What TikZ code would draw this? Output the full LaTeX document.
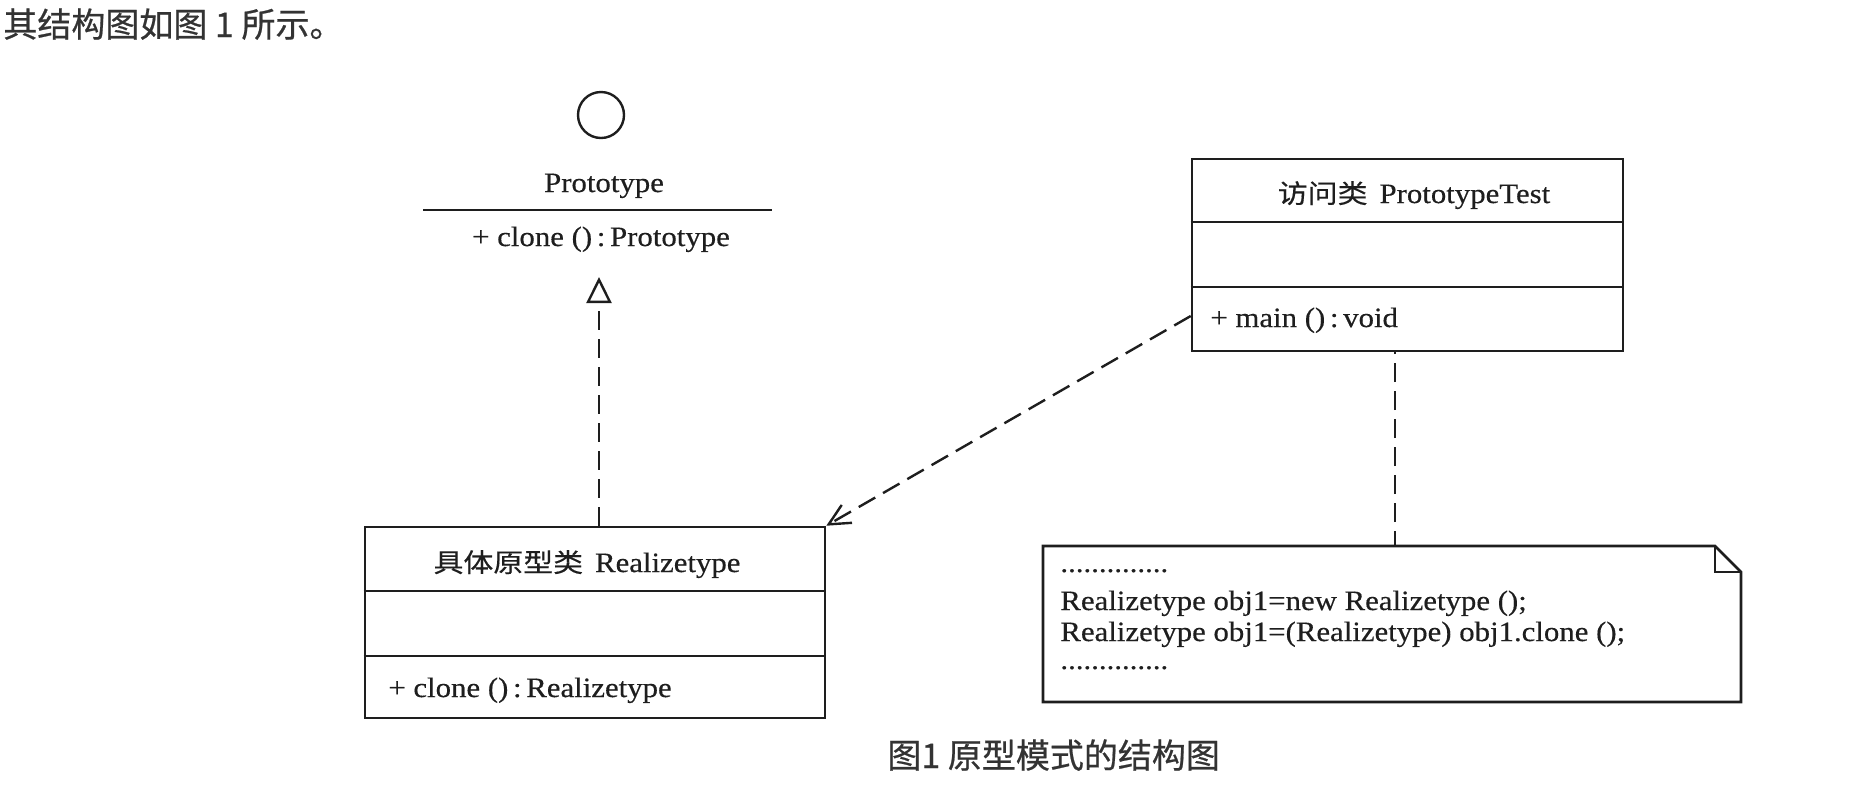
\documentclass[tikz,border=0pt]{standalone}
\usepackage{fontspec}
\setmainfont[FakeStretch=1.1,FakeBold=0.4]{Liberation Serif}
\newfontfamily\cjk[FakeStretch=1.15,FakeBold=0.4]{Noto Sans CJK SC}
\newfontfamily\cjksans[FakeBold=0.6]{Noto Sans CJK SC}
\usetikzlibrary{arrows.meta}
\definecolor{ink}{HTML}{1E1E1E}
\definecolor{capgray}{HTML}{333333}
\begin{document}
\begin{tikzpicture}[x=0.5pt,y=-0.5pt,
  boxline/.style={draw=ink,line width=1.3pt},
  classbox/.style={boxline,rectangle,inner sep=0pt},
  txt/.style={inner sep=0pt,text=ink,font=\fontsize{14pt}{16pt}\selectfont},
  sanstxt/.style={inner sep=0pt,text=capgray,font=\cjksans\fontsize{17pt}{19pt}\selectfont},
  dashline/.style={draw=ink,line width=1.2pt,dash pattern=on 9.5pt off 4.5pt},
  realize/.style={dashline,-{Triangle[open,length=13pt,width=12.5pt,fill=white]}},
  depend/.style={dashline,-{Straight Barb[length=10.5pt,width=10.3pt]}}]
\useasboundingbox (0,0) rectangle (1862,794);

% top sentence
\node[sanstxt,anchor=base west] (intro) at (3,37) {其结构图如图 1 所示。};

% interface Prototype (lollipop)
\node[circle,draw=ink,line width=1.2pt,minimum size=23pt,inner sep=0pt] (lolli) at (601,115) {};
\node[txt,anchor=base] (pname) at (604,192) {Prototype};
\coordinate (psepL) at (423,210);
\coordinate (psepR) at (772,210);
\draw[boxline] (psepL) -- (psepR);
\node[txt,anchor=base] (pop) at (601,246) {+ clone ()\,:\,Prototype};
\coordinate (implTip) at (599,277);

% Realizetype class
\node[classbox,minimum width=230pt,minimum height=95.5pt] (rt) at (595,622.5) {};
\draw[boxline] (rt.west |- 0,591) -- (rt.east |- 0,591);
\draw[boxline] (rt.west |- 0,656) -- (rt.east |- 0,656);
\node[txt,anchor=base] (rtname) at (587,572) {{\cjk\fontsize{13pt}{15pt}\selectfont 具体原型类}\hspace{6pt}Realizetype};
\node[txt,anchor=base west] (rtop) at (388,697) {+ clone ()\,:\,Realizetype};

% PrototypeTest class
\node[classbox,minimum width=215.5pt,minimum height=96pt] (pt) at (1407.5,255) {};
\draw[boxline] (pt.west |- 0,222) -- (pt.east |- 0,222);
\draw[boxline] (pt.west |- 0,287) -- (pt.east |- 0,287);
\node[txt,anchor=base] (ptname) at (1414,203) {{\cjk\fontsize{13pt}{15pt}\selectfont 访问类}\hspace{6pt}PrototypeTest};
\node[txt,anchor=base west] (ptop) at (1210,327) {+ main ()\,:\,void};
\coordinate (depY) at (0,316);

% note
\coordinate (noteTop) at (1395,546);
\draw[boxline,line join=miter] (1043,546) -- (1715,546) -- (1741,572) -- (1741,702) -- (1043,702) -- cycle;
\draw[boxline] (1715,546) -- (1715,572) -- (1741,572);
\node[txt,anchor=base west] (n1) at (1060,572) {..............};
\node[txt,anchor=base west] (n2) at (1060,610) {Realizetype obj1=new Realizetype ();};
\node[txt,anchor=base west] (n3) at (1060,641) {Realizetype obj1=(Realizetype) obj1.clone ();};
\node[txt,anchor=base west] (n4) at (1060,669) {..............};

% connectors
\draw[realize] (rt.north -| implTip) -- (implTip);
\draw[depend] (pt.west |- depY) -- (rt.north east);
\draw[dashline,dash phase=2pt] (noteTop) -- (pt.south -| noteTop);

% caption
\node[sanstxt,anchor=base west] (caption) at (887,768) {图1 原型模式的结构图};
\end{tikzpicture}
\end{document}
